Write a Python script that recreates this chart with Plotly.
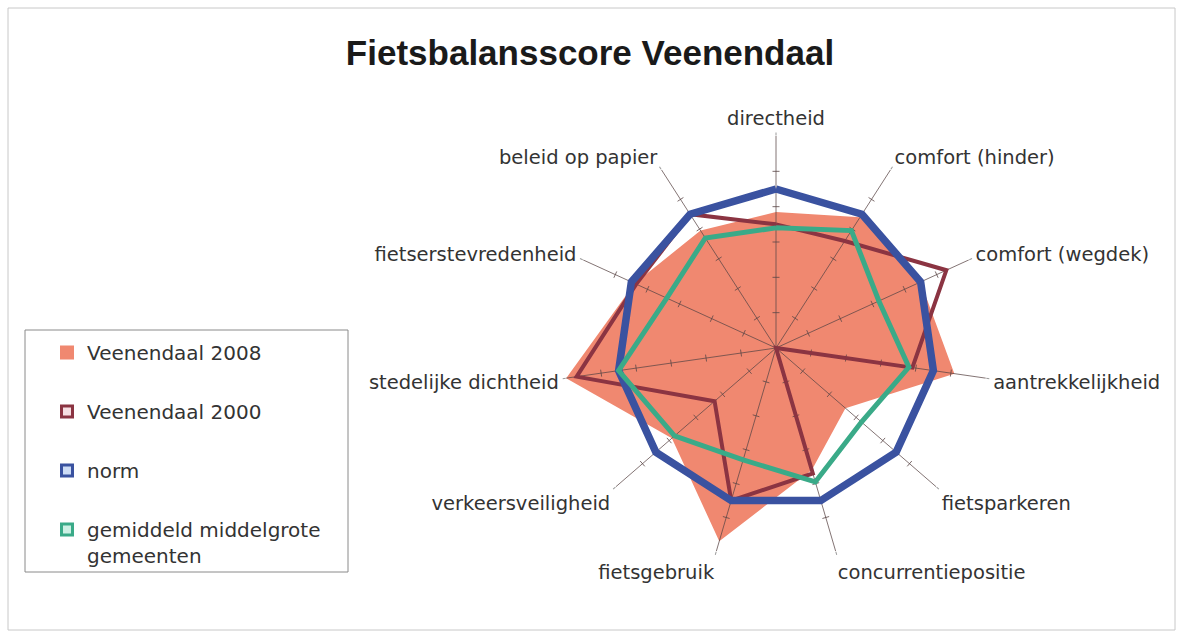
import plotly.graph_objects as go

# ---- data ----
categories = ["directheid", "comfort (hinder)", "comfort (wegdek)", "aantrekkelijkheid",
              "fietsparkeren", "concurrentiepositie", "fietsgebruik", "verkeersveiligheid",
              "stedelijke dichtheid", "fietserstevredenheid", "beleid op papier"]
veenendaal_2008 = [3.85, 4.4, 4.5, 5.1, 2.6, 3.6, 5.7, 3.9, 6.0, 4.4, 3.95]
veenendaal_2000 = [3.5, 3.6, 5.3, 3.9, 0.0, 3.7, 4.5, 2.3, 5.7, 4.35, 4.5]
norm = [4.5, 4.5, 4.5, 4.5, 4.5, 4.5, 4.5, 4.5, 4.5, 4.5, 4.5]
gemiddeld = [3.4, 3.95, 3.2, 3.8, 3.2, 3.95, 3.3, 3.8, 4.5, 3.4, 3.7]
series_names = ["Veenendaal 2008", "Veenendaal 2000", "norm", "gemiddeld middelgrote<br>gemeenten"]
r_max = 6
r_ticks = [1, 2, 3, 4, 5]

W, H = 1181, 635
CX, CY, R = 776, 348, 212

C_2008 = "rgb(240,136,112)"
C_2000 = "rgb(139,52,66)"
C_NORM = "rgb(58,82,160)"
C_GEM = "rgb(58,170,136)"


def closed(v):
    return list(v) + [v[0]]


theta_closed = closed(categories)

fig = go.Figure()

# filled 2008 area
fig.add_trace(go.Scatterpolar(r=closed(veenendaal_2008), theta=theta_closed, mode="none",
                              fill="toself", fillcolor=C_2008, showlegend=False,
                              hoverinfo="skip"))

# spokes
sr, st = [], []
for c in categories:
    sr += [0, r_max, None]
    st += [c, c, None]
fig.add_trace(go.Scatterpolar(r=sr, theta=st, mode="lines",
                              line=dict(color="rgba(90,70,70,0.75)", width=1),
                              showlegend=False, hoverinfo="skip", connectgaps=False))
# tick marks on spokes
tr, tt, ta = [], [], []
n = len(categories)
for i, c in enumerate(categories):
    for v in r_ticks:
        tr.append(v)
        tt.append(c)
        ta.append(i * 360.0 / n)
fig.add_trace(go.Scatterpolar(r=tr, theta=tt, mode="markers",
                              marker=dict(symbol="line-ew", size=5, angle=ta,
                                          line=dict(color="rgba(90,70,70,0.8)", width=1)),
                              showlegend=False, hoverinfo="skip"))

# lines
fig.add_trace(go.Scatterpolar(r=closed(veenendaal_2000), theta=theta_closed, mode="lines",
                              line=dict(color=C_2000, width=4), showlegend=False))
fig.add_trace(go.Scatterpolar(r=closed(norm), theta=theta_closed, mode="lines",
                              line=dict(color=C_NORM, width=7.5), showlegend=False))
fig.add_trace(go.Scatterpolar(r=closed(gemiddeld), theta=theta_closed, mode="lines",
                              line=dict(color=C_GEM, width=5), showlegend=False))

# legend proxies
proxy_styles = [
    (C_2008, C_2008),
    ("rgb(246,222,226)", C_2000),
    ("rgb(205,220,245)", C_NORM),
    ("rgb(205,240,228)", C_GEM),
]
for i, (name, (fillc, linec)) in enumerate(zip(series_names, proxy_styles)):
    fig.add_trace(go.Scatterpolar(r=[None], theta=[categories[0]], mode="markers", name=name,
                                  legendgroup=f"g{i}",
                                  marker=dict(symbol="square", size=11, color=fillc,
                                              line=dict(color=linec, width=3))))

dom_x = [(CX - R) / W, (CX + R) / W]
dom_y = [(H - CY - R) / H, (H - CY + R) / H]

fig.update_layout(
    width=W, height=H,
    margin=dict(l=0, r=0, t=0, b=0),
    paper_bgcolor="white", plot_bgcolor="white",
    title=dict(text="<b>Fietsbalansscore Veenendaal</b>", x=590 / W, y=1 - 53 / H,
               xanchor="center", yanchor="middle",
               font=dict(family="Liberation Sans, Arial, sans-serif", size=35, color="#1a1a1a")),
    polar=dict(
        domain=dict(x=dom_x, y=dom_y),
        bgcolor="rgba(0,0,0,0)",
        radialaxis=dict(range=[0, r_max], visible=False, showgrid=False),
        angularaxis=dict(direction="clockwise", rotation=90, showgrid=False, showline=False,
                         ticks="outside", ticklen=3, tickcolor="#9a9a9a", tickwidth=1,
                         tickfont=dict(family="DejaVu Sans, sans-serif", size=19.5, color="#333")),
    ),
    legend=dict(x=47 / W, y=1 - 333 / H, xanchor="left", yanchor="top",
                bgcolor="rgba(0,0,0,0)", borderwidth=0, tracegroupgap=30, valign="top",
                font=dict(family="DejaVu Sans, sans-serif", size=20, color="#333")),
    shapes=[
        dict(type="rect", xref="paper", yref="paper", x0=8 / W, x1=1175 / W,
             y0=1 - 630 / H, y1=1 - 8 / H, line=dict(color="#c8c8c8", width=1)),
        dict(type="rect", xref="paper", yref="paper", x0=25 / W, x1=348 / W,
             y0=1 - 572 / H, y1=1 - 330 / H, line=dict(color="#8a8a8a", width=1)),
    ],
)

fig.write_html("out.html", config={"displayModeBar": False},
               post_script="document.body.style.margin='0';document.body.style.overflow='hidden';")
